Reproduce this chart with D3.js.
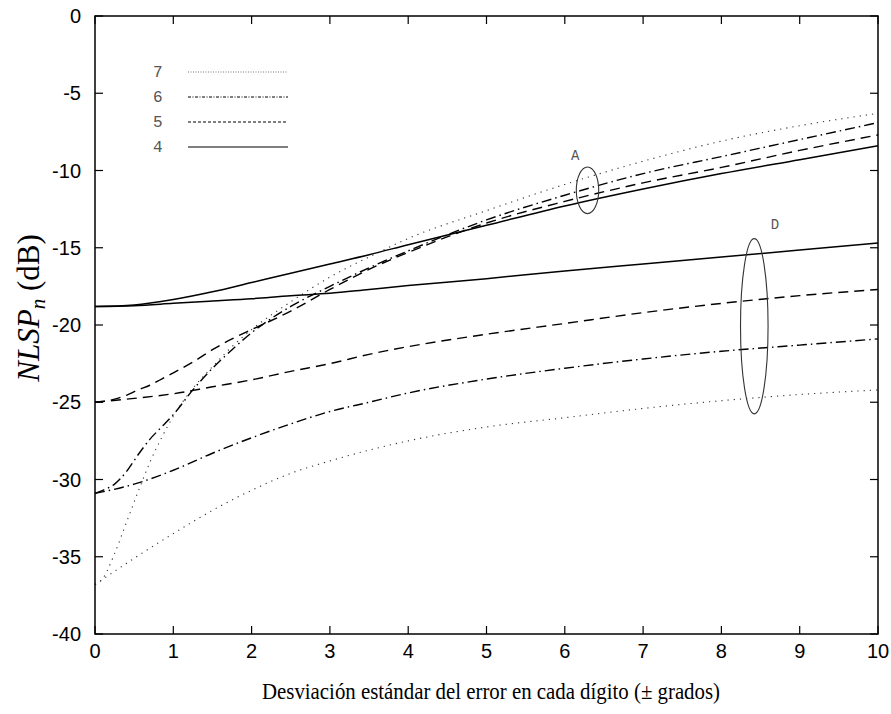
<!DOCTYPE html>
<html>
<head>
<meta charset="utf-8">
<script src="https://cdn.jsdelivr.net/npm/d3@7"></script>
<style>
  body { margin: 0; background: #fff; }
  svg { display: block; }
</style>
</head>
<body>
<div id="chart"></div>
<script>
// x samples (error std dev, degrees)
var xSteep = [0, 0.1, 0.25, 0.4, 0.55, 0.7, 0.85, 1, 1.25, 1.5, 1.75, 2, 2.5, 3, 3.5, 4, 5, 6, 7, 8, 9, 10]
var xFlat = [0, 0.5, 1, 1.5, 2, 2.5, 3, 3.5, 4, 5, 6, 7, 8, 9, 10]

// group A (steep curves)
var a7 = [-36.8, -36.4, -34.8, -32.8, -30.8, -28.9, -27.3, -25.9, -24.1, -22.7, -21.4, -20.3, -18.5, -16.9, -15.6, -14.4, -12.6, -10.9, -9.4, -8.1, -7.1, -6.3]
var a6 = [-30.9, -30.7, -30.3, -29.5, -28.4, -27.4, -26.6, -25.8, -24.2, -22.8, -21.6, -20.5, -18.8, -17.5, -16.3, -15.2, -13.2, -11.6, -10.2, -9.1, -8.0, -6.9]
var a5 = [-25.0, -24.95, -24.8, -24.55, -24.2, -23.9, -23.5, -23.1, -22.4, -21.6, -20.9, -20.3, -19.1, -17.7, -16.4, -15.3, -13.4, -12.0, -10.8, -9.8, -8.7, -7.7]
var a4 = [-18.8, -18.7, -18.35, -17.85, -17.25, -16.65, -16.05, -15.45, -14.8, -13.55, -12.3, -11.2, -10.2, -9.3, -8.4]

// group D (flat curves)
var d7 = [-36.8, -35.1, -33.5, -32.0, -30.7, -29.6, -28.8, -28.1, -27.5, -26.6, -26.0, -25.4, -24.9, -24.5, -24.2]
var d6 = [-30.9, -30.3, -29.4, -28.3, -27.3, -26.4, -25.6, -25.0, -24.4, -23.5, -22.8, -22.2, -21.7, -21.3, -20.9]
var d5 = [-25.0, -24.75, -24.45, -24.0, -23.55, -23.0, -22.5, -21.9, -21.4, -20.6, -19.9, -19.2, -18.6, -18.1, -17.7]
var d4 = [-18.8, -18.75, -18.6, -18.45, -18.3, -18.1, -17.95, -17.7, -17.45, -17.0, -16.5, -16.05, -15.6, -15.15, -14.7]

var legendKeys = ['7', '6', '5', '4']
var xTicks = d3.range(0, 11, 1)
var yTicks = d3.range(0, -41, -5)

var margin = { top: 16, left: 95, right: 13, bottom: 80 }
var width = 891 - margin.left - margin.right
var height = 714 - margin.top - margin.bottom

var svg = d3
  .select('#chart')
  .append('svg')
  .attr('width', 891)
  .attr('height', 714)
  .append('g')
  .attr('transform', 'translate(' + margin.left + ',' + margin.top + ')')

var x = d3.scaleLinear().domain([0, 10]).range([0, width])
var y = d3.scaleLinear().domain([-40, 0]).range([height, 0])

var styles = {
  '7': { dash: '1.2,5', color: '#333', w: 1.1 },
  '6': { dash: '10,4,1.5,4', color: '#000', w: 1.4 },
  '5': { dash: '10,6', color: '#000', w: 1.4 },
  '4': { dash: null, color: '#000', w: 1.5 }
}
var legendDash = { '7': '1,1.5', '6': '3,1.5,1,1.5', '5': '3,2', '4': null }

var curves = [
  { key: '7', xs: xSteep, ys: a7 },
  { key: '6', xs: xSteep, ys: a6 },
  { key: '5', xs: xSteep, ys: a5 },
  { key: '4', xs: xFlat, ys: a4 },
  { key: '7', xs: xFlat, ys: d7 },
  { key: '6', xs: xFlat, ys: d6 },
  { key: '5', xs: xFlat, ys: d5 },
  { key: '4', xs: xFlat, ys: d4 }
]

var line = d3
  .line()
  .x(d => x(d[0]))
  .y(d => y(d[1]))
  .curve(d3.curveMonotoneX)

svg
  .selectAll('.curve')
  .data(curves)
  .enter()
  .append('path')
  .attr('class', 'curve')
  .attr('d', d => line(d.xs.map((v, i) => [v, d.ys[i]])))
  .attr('fill', 'none')
  .attr('stroke', d => styles[d.key].color)
  .attr('stroke-width', d => styles[d.key].w)
  .attr('stroke-dasharray', d => styles[d.key].dash)

// ellipses marking the groups
var marks = [
  { label: 'A', cx: 6.29, cy: -11.28, rx: 0.143, ry: 1.51, lx: 6.08, ly: -9.3 },
  { label: 'D', cx: 8.42, cy: -20.08, rx: 0.176, ry: 5.67, lx: 8.63, ly: -13.8 }
]
svg
  .selectAll('.mark')
  .data(marks)
  .enter()
  .append('ellipse')
  .attr('cx', d => x(d.cx))
  .attr('cy', d => y(d.cy))
  .attr('rx', d => x(d.rx) - x(0))
  .attr('ry', d => y(0) - y(d.ry))
  .attr('fill', 'none')
  .attr('stroke', '#333')
  .attr('stroke-width', 1.1)
svg
  .selectAll('.mark-label')
  .data(marks)
  .enter()
  .append('text')
  .attr('x', d => x(d.lx))
  .attr('y', d => y(d.ly))
  .attr('font-family', 'Liberation Mono, DejaVu Sans Mono, monospace')
  .attr('font-size', 14)
  .attr('fill', '#555')
  .text(d => d.label)

// legend
var legend = svg.append('g')
legendKeys.forEach(function(k, i) {
  var ly = 56 + i * 25
  legend
    .append('text')
    .attr('x', 58)
    .attr('y', ly + 5)
    .attr('font-family', 'Liberation Mono, DejaVu Sans Mono, monospace')
    .attr('font-size', 16)
    .attr('fill', '#555')
    .text(k)
  legend
    .append('line')
    .attr('x1', 93)
    .attr('x2', 193)
    .attr('y1', ly)
    .attr('y2', ly)
    .attr('stroke', k === '7' ? '#777' : '#000')
    .attr('stroke-width', k === '4' ? 1.2 : 1)
    .attr('stroke-dasharray', legendDash[k])
})

// frame and ticks
svg
  .append('rect')
  .attr('width', width)
  .attr('height', height)
  .attr('fill', 'none')
  .attr('stroke', '#000')
  .attr('stroke-width', 1.5)

var tickLen = 8
svg.selectAll('.xt-b').data(xTicks).enter().append('line')
  .attr('x1', d => x(d)).attr('x2', d => x(d))
  .attr('y1', height).attr('y2', height - tickLen)
  .attr('stroke', '#000').attr('stroke-width', 1.2)
svg.selectAll('.xt-t').data(xTicks).enter().append('line')
  .attr('x1', d => x(d)).attr('x2', d => x(d))
  .attr('y1', 0).attr('y2', tickLen)
  .attr('stroke', '#000').attr('stroke-width', 1.2)
svg.selectAll('.yt-l').data(yTicks).enter().append('line')
  .attr('x1', 0).attr('x2', tickLen)
  .attr('y1', d => y(d)).attr('y2', d => y(d))
  .attr('stroke', '#000').attr('stroke-width', 1.2)
svg.selectAll('.yt-r').data(yTicks).enter().append('line')
  .attr('x1', width).attr('x2', width - tickLen)
  .attr('y1', d => y(d)).attr('y2', d => y(d))
  .attr('stroke', '#000').attr('stroke-width', 1.2)

svg.selectAll('.xl').data(xTicks).enter().append('text')
  .attr('x', d => x(d))
  .attr('y', height + 24)
  .attr('text-anchor', 'middle')
  .attr('font-family', 'Liberation Sans, Arial, sans-serif')
  .attr('font-size', 20)
  .text(d => d)
svg.selectAll('.yl').data(yTicks).enter().append('text')
  .attr('x', -14)
  .attr('y', d => y(d) + 7)
  .attr('text-anchor', 'end')
  .attr('font-family', 'Liberation Sans, Arial, sans-serif')
  .attr('font-size', 20)
  .text(d => d)

// axis titles
svg.append('text')
  .attr('x', 167)
  .attr('y', height + 65)
  .attr('font-family', 'Liberation Serif, DejaVu Serif, serif')
  .attr('font-size', 23)
  .attr('textLength', 458)
  .attr('lengthAdjust', 'spacingAndGlyphs')
  .text('Desviación estándar del error en cada dígito (± grados)')

var yTitle = svg.append('text')
  .attr('transform', 'translate(' + (-56) + ',' + 292 + ') rotate(-90)')
  .attr('text-anchor', 'middle')
  .attr('font-family', 'Liberation Serif, DejaVu Serif, serif')
  .attr('font-size', 31)
yTitle.append('tspan').attr('font-style', 'italic').text('NLSP')
yTitle.append('tspan').attr('font-style', 'italic').attr('font-size', 21).attr('dy', 6).text('n')
yTitle.append('tspan').attr('dy', -6).text(' (dB)')
</script>
</body>
</html>
